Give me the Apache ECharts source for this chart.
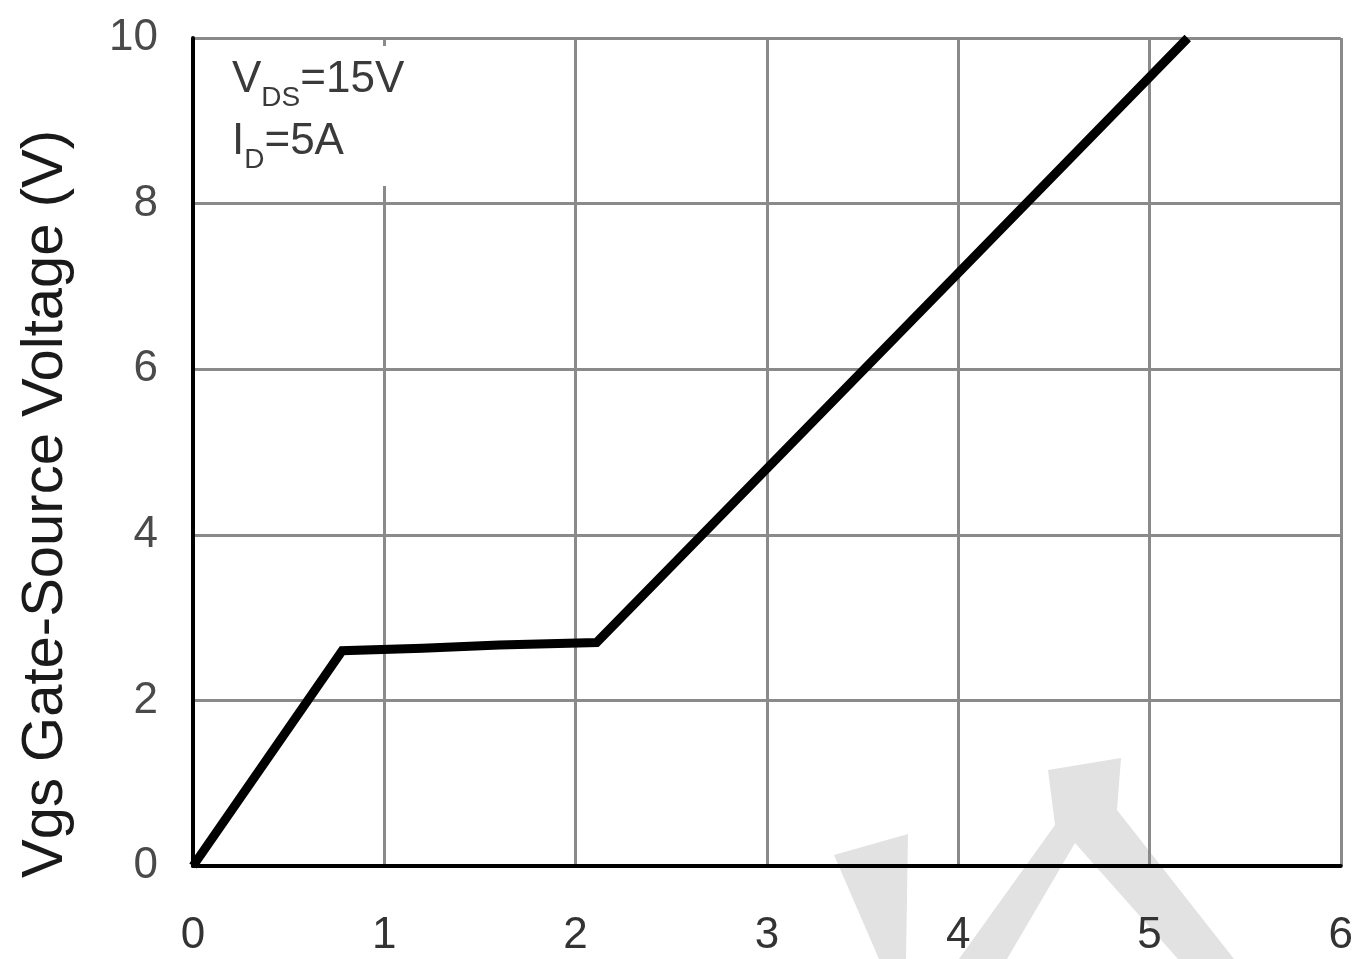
<!DOCTYPE html>
<html>
<head>
<meta charset="utf-8">
<script src="https://cdn.jsdelivr.net/npm/echarts@6/dist/echarts.min.js"></script>
<style>
html,body{margin:0;padding:0;background:#fff;}
#chart{width:1356px;height:959px;}
</style>
</head>
<body>
<div id="chart"></div>
<script>
// Gate charge curve data (Qg in nC, Vgs in V)
var chargeValues = [0, 0.78, 1.2, 1.6, 2.11, 3.0, 4.0, 5.2];
var voltageValues = [0, 2.6, 2.63, 2.67, 2.7, 4.8, 7.16, 10];
var xTicks = [0, 1, 2, 3, 4, 5, 6];
var yTicks = [0, 2, 4, 6, 8, 10];

var chart = echarts.init(document.getElementById('chart'));
var pts = chargeValues.map(function (x, i) { return [x, voltageValues[i]]; });
var FONT = '"Liberation Sans", Arial, sans-serif';

chart.setOption({
  backgroundColor: '#ffffff',
  animation: false,
  grid: { left: 193, right: 13, top: 38, bottom: 93, show: false },
  xAxis: {
    type: 'value', min: xTicks[0], max: xTicks[xTicks.length - 1], interval: 1,
    axisLine: { show: true, onZero: false, lineStyle: { color: '#000', width: 4 } },
    axisTick: { show: false },
    axisLabel: { margin: 48, fontSize: 44, color: '#333333', fontFamily: FONT },
    splitLine: { show: true, lineStyle: { color: '#8a8a8a', width: 3 } }
  },
  yAxis: {
    type: 'value', min: yTicks[0], max: yTicks[yTicks.length - 1], interval: 2,
    axisLine: { show: true, onZero: false, lineStyle: { color: '#000', width: 4 } },
    axisTick: { show: false },
    axisLabel: { margin: 35, fontSize: 44, color: '#4a4a4a', fontFamily: FONT },
    splitLine: { show: true, lineStyle: { color: '#8a8a8a', width: 3 } }
  },
  graphic: [
    // watermark (light gray, behind everything)
    { type: 'polygon', z: -100, silent: true,
      shape: { points: [[834,855],[908,834],[906,959],[879,959]] },
      style: { fill: '#e2e2e2' } },
    { type: 'polygon', z: -100, silent: true,
      shape: { points: [[1048,770],[1121,758],[1117,810],[1234,959],[1178,959],[1075,843],[1007,959],[959,959],[1055,825]] },
      style: { fill: '#e2e2e2' } },
    // white box behind annotation
    { type: 'rect', z: 50, silent: true,
      shape: { x: 203, y: 46, width: 200, height: 140 },
      style: { fill: '#ffffff' } },
    { type: 'text', z: 60, left: 232, top: 58, silent: true,
      style: {
        text: '{a|V}{b|DS}{a|=15V}',
        rich: {
          a: { fontSize: 44, fontFamily: FONT, fill: '#3a3a3a', lineHeight: 46, verticalAlign: 'bottom' },
          b: { fontSize: 28, fontFamily: FONT, fill: '#3a3a3a', lineHeight: 28, verticalAlign: 'bottom', padding: [0, 0, -10, 0] }
        }
      } },
    { type: 'text', z: 60, left: 232, top: 120, silent: true,
      style: {
        text: '{a|I}{b|D}{a|=5A}',
        rich: {
          a: { fontSize: 44, fontFamily: FONT, fill: '#3a3a3a', lineHeight: 46, verticalAlign: 'bottom' },
          b: { fontSize: 28, fontFamily: FONT, fill: '#3a3a3a', lineHeight: 28, verticalAlign: 'bottom', padding: [0, 0, -10, 0] }
        }
      } },
    // y axis title
    { type: 'text', z: 60, silent: true, x: 46, y: 504, rotation: Math.PI / 2,
      style: { text: 'Vgs Gate-Source Voltage (V)', fontSize: 58, fontFamily: FONT, fill: '#1a1a1a',
               align: 'center', verticalAlign: 'middle' } }
  ],
  series: [{
    type: 'line',
    data: pts,
    showSymbol: false,
    symbol: 'none',
    clip: false,
    z: 10,
    lineStyle: { color: '#000', width: 9, join: 'miter' }
  }]
});
</script>
</body>
</html>
